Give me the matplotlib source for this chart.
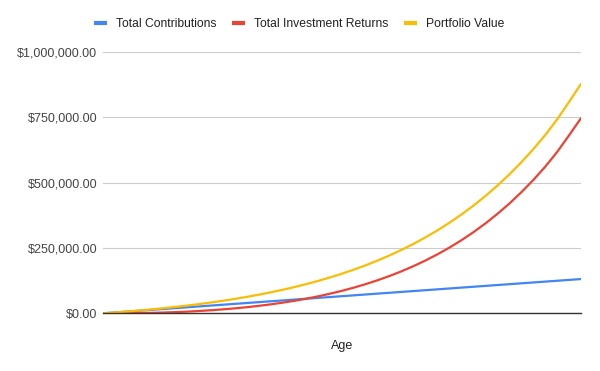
import matplotlib.pyplot as plt
from matplotlib.lines import Line2D
from matplotlib.ticker import FuncFormatter

plt.rcParams["font.family"] = ["Liberation Sans", "DejaVu Sans"]

# Values, one per year of age
ages = list(range(25, 66))
contributions = [0, 3275, 6550, 9825, 13100, 16375, 19650, 22925, 26200, 29475,
                 32750, 36025, 39300, 42575, 45850, 49125, 52400, 55675, 58950, 62225,
                 65500, 68775, 72050, 75325, 78600, 81875, 85150, 88425, 91700, 94975,
                 98250, 101525, 104800, 108075, 111350, 114625, 117900, 121175, 124450, 127725,
                 131000]
returns = [0, 25, 250, 775, 1700, 2925, 4450, 6375, 8800, 11625,
           14950, 18775, 23200, 28325, 34050, 40475, 47700, 55825, 64850, 74975,
           86000, 98325, 111850, 126775, 143100, 161025, 180750, 202275, 225800, 251525,
           279550, 310175, 343500, 379925, 419350, 462475, 509100, 560025, 616550, 680275,
           746000]
portfolio = [0, 3300, 6800, 10600, 14800, 19300, 24100, 29300, 35000, 41100,
             47700, 54800, 62500, 70900, 79900, 89600, 100100, 111500, 123800, 137200,
             151500, 167100, 183900, 202100, 221700, 242900, 265900, 290700, 317500, 346500,
             377800, 411700, 448300, 488000, 530700, 577100, 627000, 681200, 741000, 808000,
             877000]

series_names = ["Total Contributions", "Total Investment Returns", "Portfolio Value"]
colors = ["#4285F4", "#EA4335", "#FBBC04"]

fig = plt.figure(figsize=(6, 3.71), dpi=100)
ax = fig.add_axes([0.1717, 0.1555, 0.7966, 0.7051])

for values, color in zip([contributions, returns, portfolio], colors):
    ax.plot(ages, values, color=color, linewidth=1.6, solid_capstyle="round")

ax.set_xlim(ages[0], ages[-1])
ax.set_ylim(0, 1000000)
ax.set_yticks([0, 250000, 500000, 750000, 1000000])
ax.yaxis.set_major_formatter(FuncFormatter(lambda v, _: f"${v:,.2f}"))
ax.set_xticks([])
ax.grid(axis="y", color="#cccccc", linewidth=0.8)
ax.set_axisbelow(True)
ax.tick_params(axis="y", length=0, pad=4, labelsize=9, labelcolor="#444444")

for side in ["top", "right", "left"]:
    ax.spines[side].set_visible(False)
ax.spines["bottom"].set_color("#333333")
ax.spines["bottom"].set_linewidth(1.0)
ax.spines["bottom"].set_zorder(5)

ax.set_xlabel("Age", fontsize=9, color="#222222", labelpad=19)

handles = [Line2D([], [], color=c, linewidth=3, solid_capstyle="butt") for c in colors]
fig.legend(handles, series_names, loc="center", bbox_to_anchor=(0.499, 0.935),
           ncol=3, frameon=False, fontsize=8.7, handlelength=1.05,
           handletextpad=0.75, columnspacing=1.3, labelcolor="#222222")

fig.savefig("out.png", dpi=100, facecolor="white")
